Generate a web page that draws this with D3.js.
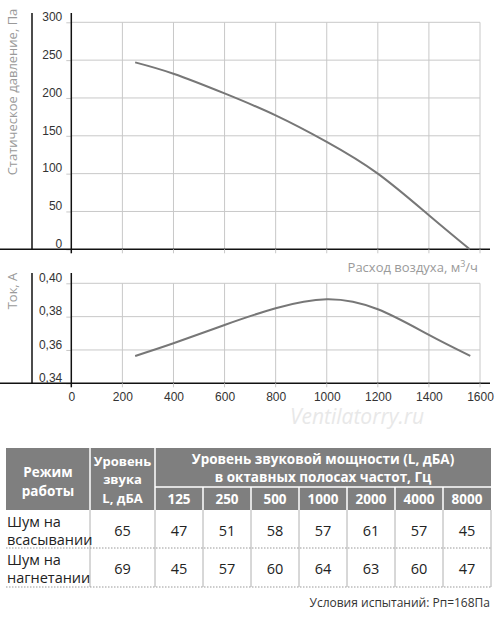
<!DOCTYPE html>
<html><head><meta charset="utf-8">
<script src="https://cdn.jsdelivr.net/npm/d3@7"></script>
<style>body{margin:0;background:#fff}svg{display:block;font-family:"Open Sans",sans-serif}</style>
</head><body>
<script>
// Data
const flowTicks = [0,200,400,600,800,1000,1200,1400,1600];
const pressureTicks = [0,50,100,150,200,250,300];
const currentTicks = [0.34,0.36,0.38,0.40];
const pressureFlow = [250,400,600,800,1000,1200,1400,1560];
const pressureVals = [247,232,206,177,142,100,45,0];
const currentFlow = [250,400,600,800,1000,1200,1400,1562];
const currentVals = [0.3564,0.364,0.375,0.385,0.3904,0.3844,0.369,0.3564];
const freqs = ["125","250","500","1000","2000","4000","8000"];
const rowLabels = [["Шум на","всасывании"],["Шум на","нагнетании"]];
const totalLevels = [65,69];
const bandLevels = [[47,51,58,57,61,57,45],[45,57,60,64,63,60,47]];

const W=500,H=622;
const svg=d3.select("body").append("svg").attr("width",W).attr("height",H);
const x=d3.scaleLinear().domain([0,1600]).range([71.3,480]);
const yP=d3.scaleLinear().domain([0,300]).range([249.3,22.3]);
const yC=d3.scaleLinear().domain([0.34,0.40]).range([383.3,283.3]);
const grid="#c8c8c8", lineCol="#777", txt="#333", lab="#9a9a9a";

function panel(y, ticks, fmt, top, bottom){
  const g=svg.append("g");
  g.selectAll(".gv").data(flowTicks.slice(1)).join("line")
    .attr("x1",d=>x(d)).attr("x2",d=>x(d)).attr("y1",y(ticks[ticks.length-1])).attr("y2",bottom)
    .attr("stroke",grid).attr("stroke-width",1);
  g.selectAll(".gh").data(ticks.slice(1)).join("line")
    .attr("x1",x(0)).attr("x2",x(1600)).attr("y1",d=>y(d)).attr("y2",d=>y(d))
    .attr("stroke",grid).attr("stroke-width",1);
  const ax=g.append("g").attr("transform",`translate(${x(0)},0)`)
    .call(d3.axisLeft(y).tickValues(ticks).tickFormat(fmt).tickSize(5).tickPadding(4));
  ax.select(".domain").remove();
  ax.selectAll(".tick line").attr("stroke",grid);
  ax.selectAll("text").attr("fill",txt).style("font-size","12px").attr("dy","-0.15em");
  g.append("line").attr("x1",32).attr("x2",32).attr("y1",top).attr("y2",bottom).attr("stroke","#111").attr("stroke-width",1.5);
  g.append("line").attr("x1",x(0)).attr("x2",x(0)).attr("y1",top).attr("y2",bottom+4).attr("stroke","#111").attr("stroke-width",1.5);
  g.append("line").attr("x1",0).attr("x2",490).attr("y1",bottom).attr("y2",bottom).attr("stroke","#111").attr("stroke-width",1.5);
  g.selectAll(".xt").data(flowTicks.slice(1)).join("line")
    .attr("x1",d=>x(d)).attr("x2",d=>x(d)).attr("y1",bottom).attr("y2",bottom+4).attr("stroke",grid);
  return g;
}
panel(yP,pressureTicks,d3.format("d"),13,249.3);
panel(yC,currentTicks,d=>d3.format(".2f")(d).replace(".",","),273,383.3);

const lineGen=(yy)=>d3.line().x(d=>x(d[0])).y(d=>yy(d[1])).curve(d3.curveNatural);
svg.append("path").datum(d3.zip(pressureFlow,pressureVals)).attr("d",lineGen(yP))
  .attr("fill","none").attr("stroke",lineCol).attr("stroke-width",2);
svg.append("path").datum(d3.zip(currentFlow,currentVals)).attr("d",lineGen(yC))
  .attr("fill","none").attr("stroke",lineCol).attr("stroke-width",2);

const xa=svg.append("g").attr("transform","translate(0,387)")
  .call(d3.axisBottom(x).tickValues(flowTicks).tickFormat(d3.format("d")).tickSize(0).tickPadding(5));
xa.select(".domain").remove();
xa.selectAll("text").attr("fill",txt).style("font-size","12px");

svg.append("text").attr("transform","translate(17,92) rotate(-90)").attr("text-anchor","middle")
  .attr("fill",lab).style("font-size","13px").text("Статическое давление, Па");
svg.append("text").attr("transform","translate(17,291) rotate(-90)").attr("text-anchor","middle")
  .attr("fill",lab).style("font-size","13px").text("Ток, А");
const ft=svg.append("text").attr("x",478).attr("y",272).attr("text-anchor","end").attr("fill",lab).style("font-size","13px");
ft.append("tspan").text("Расход воздуха, м");
ft.append("tspan").attr("dy",-5).style("font-size","9px").text("3");
ft.append("tspan").attr("dy",5).text("/ч");

svg.append("text").attr("x",357).attr("y",424).attr("text-anchor","middle").attr("fill","#e8e8e8")
  .style("font-size","21px").style("font-style","italic").text("Ventilatorry.ru");

// table
const colX=[6,90,155,203,251,299,347,395,443,491];
const hTop=448, hMid=487, hBot=510, r1=548, r2=587;
const hdr="#7f7f7f";
svg.append("rect").attr("x",colX[0]).attr("y",hTop).attr("width",colX[9]-colX[0]).attr("height",hBot-hTop).attr("fill",hdr);
const T=svg.append("g");
T.append("line").attr("x1",colX[1]).attr("x2",colX[1]).attr("y1",hTop).attr("y2",hBot).attr("stroke","#fff").attr("stroke-width",1.5);
T.append("line").attr("x1",colX[2]).attr("x2",colX[2]).attr("y1",hTop).attr("y2",hBot).attr("stroke","#fff").attr("stroke-width",1.5);
T.append("line").attr("x1",colX[2]).attr("x2",colX[9]).attr("y1",hMid).attr("y2",hMid).attr("stroke","#fff").attr("stroke-width",1.5);
T.selectAll(".fs").data(colX.slice(3,9)).join("line").attr("x1",d=>d).attr("x2",d=>d).attr("y1",hMid).attr("y2",hBot).attr("stroke","#fff").attr("stroke-width",1.5);
T.selectAll(".bv").data(colX.slice(1,10)).join("line").attr("x1",d=>d).attr("x2",d=>d).attr("y1",hBot).attr("y2",r2).attr("stroke","#b0b0b0").attr("stroke-width",1);
[r1,r2].forEach(yy=>T.append("line").attr("x1",colX[0]).attr("x2",colX[9]).attr("y1",yy).attr("y2",yy)
  .attr("stroke","#999").attr("stroke-width",1).attr("stroke-dasharray","1.5,1.5"));
function ht(xx,yy,s,fs){T.append("text").attr("x",xx).attr("y",yy).attr("text-anchor","middle")
  .attr("fill","#fff").style("font-size",(fs||13)+"px").style("font-weight","bold").text(s);}
ht((colX[0]+colX[1])/2,477,"Режим",13.5);
ht((colX[0]+colX[1])/2,496,"работы",13.5);
ht((colX[1]+colX[2])/2,466,"Уровень");
ht((colX[1]+colX[2])/2,484,"звука");
ht((colX[1]+colX[2])/2,503,"L, дБА");
ht((colX[2]+colX[9])/2,464,"Уровень звуковой мощности (L, дБА)",13.5);
ht((colX[2]+colX[9])/2,482,"в октавных полосах частот, Гц",13.5);
freqs.forEach((f,i)=>ht((colX[i+2]+colX[i+3])/2,504,f,13.5));
function bt(xx,yy,s,anchor){T.append("text").attr("x",xx).attr("y",yy).attr("text-anchor",anchor||"middle")
  .attr("fill","#222").style("font-size","14.5px").text(s);}
const rowY=[[527,545,536],[565,583,574]];
rowLabels.forEach((rl,i)=>{
  bt(7,rowY[i][0],rl[0],"start"); bt(7,rowY[i][1],rl[1],"start");
  bt((colX[1]+colX[2])/2,rowY[i][2],totalLevels[i]);
  bandLevels[i].forEach((v,j)=>bt((colX[j+2]+colX[j+3])/2,rowY[i][2],v));
});
svg.append("text").attr("x",490).attr("y",607).attr("text-anchor","end").attr("fill","#333")
  .style("font-size","12px").text("Условия испытаний: Рп=168Па");
</script>
</body></html>
